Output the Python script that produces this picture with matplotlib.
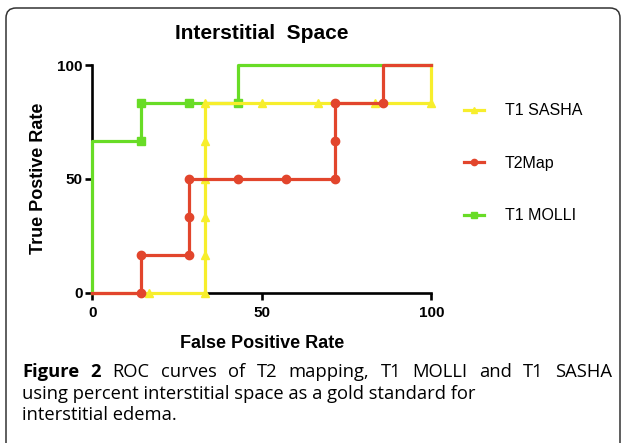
import matplotlib
matplotlib.use("Agg")
import matplotlib.pyplot as plt
from matplotlib.patches import FancyBboxPatch
import numpy as np

# ROC points (percent)
sasha_fpr = [0, 16.67, 33.33, 33.33, 33.33, 33.33, 33.33, 33.33, 50, 66.67, 83.33, 100, 100]
sasha_tpr = [0, 0, 0, 16.67, 33.33, 50, 66.67, 83.33, 83.33, 83.33, 83.33, 83.33, 100]

t2_fpr = [0, 14.29, 14.29, 28.57, 28.57, 28.57, 42.86, 57.14, 71.43, 71.43, 71.43, 85.71, 85.71, 100]
t2_tpr = [0, 0, 16.67, 16.67, 33.33, 50, 50, 50, 50, 66.67, 83.33, 83.33, 100, 100]

molli_fpr = [0, 0, 14.29, 14.29, 28.57, 42.86, 42.86, 57.14, 71.43, 85.71, 100]
molli_tpr = [0, 66.67, 66.67, 83.33, 83.33, 83.33, 100, 100, 100, 100, 100]

labels = ["T1 SASHA", "T2Map", "T1 MOLLI"]
colors = ["#f7ee2c", "#e2452c", "#68dc26"]

chart_font = "Liberation Sans"
cap_font = "Open Sans"

fig = plt.figure(figsize=(6.24, 4.43), dpi=100)
ax = fig.add_axes([0.148, 0.3397, 0.5433, 0.5135])

def marks(x, y):
    # prism hides the markers sitting on the axis frame at x=0 / y=100
    return [(a > 0 and b < 100) for a, b in zip(x, y)]

# draw order: green, yellow, red on top
l_molli, = ax.plot(molli_fpr, molli_tpr, color=colors[2], lw=2.3, marker="s", ms=5.5,
                   markevery=marks(molli_fpr, molli_tpr), clip_on=False, zorder=3)
l_sasha, = ax.plot(sasha_fpr, sasha_tpr, color=colors[0], lw=2.3, marker="^", ms=6,
                   markevery=marks(sasha_fpr, sasha_tpr), clip_on=False, zorder=4)
l_t2, = ax.plot(t2_fpr, t2_tpr, color=colors[1], lw=2.3, marker="o", ms=6,
                markevery=marks(t2_fpr, t2_tpr), clip_on=False, zorder=5)

ax.set_xlim(0, 100)
ax.set_ylim(0, 100)
ax.set_xticks([0, 50, 100])
ax.set_yticks([0, 50, 100])
for s in ["top", "right"]:
    ax.spines[s].set_visible(False)
for s in ["left", "bottom"]:
    ax.spines[s].set_linewidth(1.9)
ax.tick_params(width=1.9, length=5, direction="out")
ax.tick_params(axis="x", pad=4.5)
ax.tick_params(axis="y", pad=2)
for t in ax.get_xticklabels() + ax.get_yticklabels():
    t.set_fontfamily(chart_font)
    t.set_fontweight("bold")
    t.set_fontsize(11)

ax.set_xlabel("False Positive Rate", family=chart_font, weight="bold", fontsize=13, labelpad=11)
ax.set_ylabel("True Postive Rate", family=chart_font, weight="bold", fontsize=13, labelpad=7)
ax.set_title("Interstitial  Space", family=chart_font, weight="bold", fontsize=15, pad=18.5)

leg = ax.legend([l_sasha, l_t2, l_molli], labels, loc="upper left",
                bbox_to_anchor=(1.055, 0.895), frameon=False,
                prop={"family": chart_font, "size": 11.5},
                handlelength=1.25, handletextpad=1.3, labelspacing=2.35,
                markerscale=0.75)

# rounded frame around the whole figure (pixel coords)
frame = FancyBboxPatch((6, -20), 614, 455, boxstyle="round,pad=0,rounding_size=10",
                       transform=None, fill=False, edgecolor="#333333", lw=1.1)
fig.patches.append(frame)

# caption
W, H = 624, 443
cap_size = 13.2
renderer = fig.canvas.get_renderer()

def text_width(s, weight):
    t = fig.text(0, 0, s, family=cap_font, fontsize=cap_size, weight=weight)
    w = t.get_window_extent(renderer).width
    t.remove()
    return w

line1 = [("Figure", "bold"), ("2", "bold"), ("ROC", "normal"), ("curves", "normal"),
         ("of", "normal"), ("T2", "normal"), ("mapping,", "normal"), ("T1", "normal"),
         ("MOLLI", "normal"), ("and", "normal"), ("T1", "normal"), ("SASHA", "normal")]
x0, x1 = 22, 612
widths = [text_width(w, wt) for w, wt in line1]
gap = (x1 - x0 - sum(widths)) / (len(line1) - 1)
x = x0
y1 = H - 377
for (w, wt), ww in zip(line1, widths):
    fig.text(x / W, y1 / H, w, family=cap_font, fontsize=cap_size, weight=wt, va="baseline")
    x += ww + gap

fig.text(x0 / W, (H - 399) / H, "using percent interstitial space as a gold standard for",
         family=cap_font, fontsize=cap_size, va="baseline")
fig.text(x0 / W, (H - 420) / H, "interstitial edema.", family=cap_font, fontsize=cap_size,
         va="baseline")

fig.savefig("out.png", dpi=100)
